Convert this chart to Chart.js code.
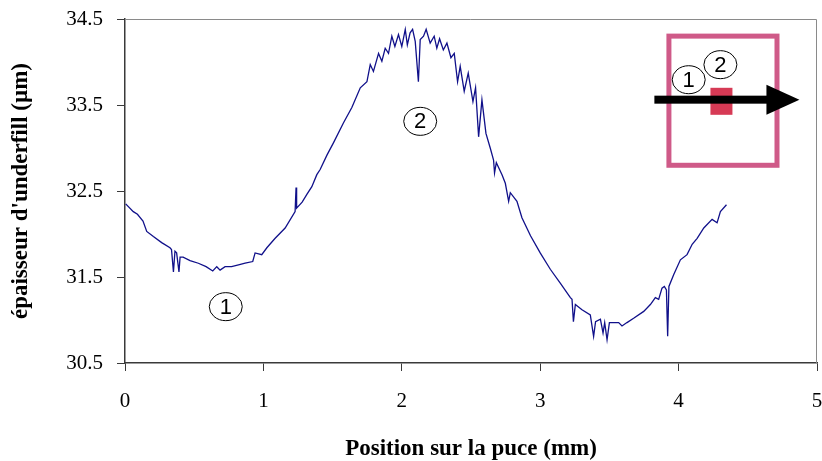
<!DOCTYPE html>
<html>
<head>
<meta charset="utf-8">
<script src="https://cdn.jsdelivr.net/npm/chart.js@4/dist/chart.umd.min.js"></script>
<style>
  html, body { margin: 0; padding: 0; background: #fff; }
  #wrap { width: 822px; height: 461px; position: relative; }
</style>
</head>
<body>
<div id="wrap"><canvas id="c"></canvas></div>
<script>
// Position along the chip (mm)
const positions = [
  0.005, 0.06, 0.09, 0.13, 0.157, 0.205, 0.265, 0.325, 0.336, 0.35, 0.361, 0.373, 0.39, 0.398,
  0.42, 0.47, 0.53, 0.586, 0.634, 0.663, 0.687, 0.723, 0.77, 0.82, 0.868, 0.923, 0.94,
  0.988, 1.025, 1.085, 1.157, 1.229, 1.236, 1.24, 1.28, 1.314, 1.35, 1.386, 1.41, 1.46, 1.506, 1.578,
  1.639, 1.70, 1.748, 1.772, 1.795, 1.832, 1.856, 1.88, 1.904, 1.928, 1.95, 1.976, 2.0,
  2.025, 2.04, 2.06, 2.078, 2.097, 2.12, 2.133, 2.157, 2.176, 2.205, 2.234, 2.253, 2.273,
  2.30, 2.326, 2.355, 2.379, 2.403, 2.422, 2.451, 2.48, 2.514, 2.533, 2.555, 2.579, 2.608,
  2.639, 2.663, 2.67, 2.683, 2.724, 2.748, 2.772, 2.784, 2.832, 2.868, 2.93, 3.0, 3.073,
  3.145, 3.218, 3.23, 3.24, 3.254, 3.302, 3.362, 3.386, 3.40, 3.435, 3.454, 3.466, 3.483,
  3.50, 3.53, 3.567, 3.591, 3.627, 3.675, 3.748, 3.796, 3.832, 3.856, 3.88, 3.897, 3.912,
  3.921, 3.93, 3.965, 4.013, 4.061, 4.098, 4.134, 4.182, 4.242, 4.278, 4.302, 4.346
];
// Underfill thickness (µm)
const thickness = [
  32.35, 32.26, 32.23, 32.15, 32.03, 31.97, 31.90, 31.84, 31.82, 31.56, 31.80, 31.78, 31.56, 31.73,
  31.73, 31.69, 31.66, 31.62, 31.57, 31.62, 31.58, 31.62, 31.62, 31.64, 31.66, 31.68, 31.78,
  31.76, 31.84, 31.95, 32.07, 32.26, 32.54, 32.30, 32.37, 32.46, 32.55, 32.69, 32.75, 32.92, 33.06, 33.29,
  33.47, 33.70, 33.77, 33.97, 33.89, 34.10, 34.01, 34.16, 34.10, 34.30, 34.18, 34.32, 34.18,
  34.38, 34.20, 34.34, 34.38, 34.24, 33.77, 34.26, 34.30, 34.38, 34.22, 34.30, 34.16, 34.27,
  34.14, 34.22, 34.05, 34.10, 33.77, 33.95, 33.66, 33.87, 33.54, 33.70, 33.13, 33.56, 33.17,
  33.00, 32.86, 32.71, 32.83, 32.69, 32.59, 32.38, 32.48, 32.38, 32.19, 31.98, 31.78, 31.59,
  31.43, 31.26, 31.24, 30.98, 31.18, 31.12, 31.06, 30.81, 30.98, 31.01, 30.85, 30.97, 30.77,
  30.97, 30.97, 30.97, 30.93, 30.97, 31.02, 31.10, 31.18, 31.26, 31.24, 31.37, 31.39, 31.35,
  30.81, 31.39, 31.53, 31.70, 31.76, 31.88, 31.95, 32.07, 32.17, 32.13, 32.26, 32.34
];
const xTickValues = [0, 1, 2, 3, 4, 5];
const xTickLabels = ['0', '1', '2', '3', '4', '5'];
const yTickValues = [30.5, 31.5, 32.5, 33.5, 34.5];
const yTickLabels = ['30.5', '31.5', '32.5', '33.5', '34.5'];
const xTitle = 'Position sur la puce (mm)';
const yTitle = "épaisseur d'underfill (µm)";

// circled markers, anchored in data coordinates
const markers = [
  { label: '1', x: 0.728, y: 31.155 },
  { label: '2', x: 2.133, y: 33.31 },
  { label: '1', x: 4.073, y: 33.794 },
  { label: '2', x: 4.302, y: 33.969 }
];
// inset sketch of the chip, in data coordinates
const insetChip = { x0: 3.912, x1: 4.729, y0: 34.33, y1: 32.77 };
const insetDie = { x0: 4.23, x1: 4.389, y0: 33.70, y1: 33.386 };
const insetArrow = { x0: 3.825, x1: 4.873, y: 33.562 };

const points = positions.map((p, i) => ({ x: p, y: thickness[i] }));

const framePlugin = {
  id: 'frame',
  beforeDatasetsDraw(chart) {
    const { ctx, chartArea: a } = chart;
    ctx.save();
    ctx.strokeStyle = '#8a8a8a';
    ctx.lineWidth = 1;
    ctx.beginPath();
    ctx.moveTo(a.left, a.top + 0.5);
    ctx.lineTo(a.right - 0.5, a.top + 0.5);
    ctx.lineTo(a.right - 0.5, a.bottom);
    ctx.stroke();
    ctx.restore();
  },
  afterDatasetsDraw(chart) {
    const { ctx } = chart;
    const xs = chart.scales.x, ys = chart.scales.y;
    ctx.save();
    // inset chip frame
    const fx0 = xs.getPixelForValue(insetChip.x0), fx1 = xs.getPixelForValue(insetChip.x1);
    const fy0 = ys.getPixelForValue(insetChip.y0), fy1 = ys.getPixelForValue(insetChip.y1);
    ctx.strokeStyle = '#cf5a88';
    ctx.lineWidth = 5;
    ctx.strokeRect(fx0 + 2.5, fy0 + 2.5, fx1 - fx0 - 5, fy1 - fy0 - 5);
    // die
    const dx0 = xs.getPixelForValue(insetDie.x0), dx1 = xs.getPixelForValue(insetDie.x1);
    const dy0 = ys.getPixelForValue(insetDie.y0), dy1 = ys.getPixelForValue(insetDie.y1);
    ctx.fillStyle = '#d63a55';
    ctx.fillRect(dx0, dy0, dx1 - dx0, dy1 - dy0);
    // arrow
    const ax0 = xs.getPixelForValue(insetArrow.x0), ax1 = xs.getPixelForValue(insetArrow.x1);
    const ay = ys.getPixelForValue(insetArrow.y);
    ctx.fillStyle = '#000';
    ctx.fillRect(ax0, ay - 4, ax1 - ax0 - 28, 8);
    ctx.beginPath();
    ctx.moveTo(ax1, ay);
    ctx.lineTo(ax1 - 33, ay - 15);
    ctx.lineTo(ax1 - 33, ay + 15);
    ctx.closePath();
    ctx.fill();
    // circled labels
    markers.forEach(m => {
      const cx = xs.getPixelForValue(m.x), cy = ys.getPixelForValue(m.y);
      ctx.fillStyle = '#fff';
      ctx.strokeStyle = '#000';
      ctx.lineWidth = 1;
      ctx.beginPath();
      ctx.ellipse(cx, cy, 16.5, 14, 0, 0, Math.PI * 2);
      ctx.fill();
      ctx.stroke();
      ctx.fillStyle = '#000';
      ctx.font = '22px "Liberation Sans", Arial, sans-serif';
      ctx.textAlign = 'center';
      ctx.textBaseline = 'middle';
      ctx.fillText(m.label, cx, cy + 1);
    });
    ctx.restore();
  }
};

new Chart(document.getElementById('c'), {
  type: 'scatter',
  data: {
    datasets: [{
      data: points,
      showLine: true,
      borderColor: '#10108a',
      borderWidth: 1.3,
      pointRadius: 0,
      tension: 0
    }]
  },
  options: {
    responsive: true,
    maintainAspectRatio: false,
    animation: false,
    events: [],
    layout: { padding: { left: 0, right: 5, top: 19, bottom: 0 } },
    plugins: { legend: { display: false }, tooltip: { enabled: false } },
    scales: {
      x: {
        type: 'linear',
        min: 0, max: 5,
        afterBuildTicks(s) { s.ticks = xTickValues.map(v => ({ value: v })); },
        afterFit(s) { s.height = 98; s.paddingLeft = 0; s.paddingRight = 0; },
        border: { display: true, color: '#3a3a3a', width: 1.5 },
        grid: { drawOnChartArea: false, drawTicks: true, tickLength: 8, color: '#3a3a3a', tickWidth: 1 },
        ticks: {
          padding: 18,
          color: '#000',
          maxRotation: 0,
          font: { family: '"Liberation Serif", "Times New Roman", serif', size: 21 },
          callback(v) { const i = xTickValues.indexOf(v); return i >= 0 ? xTickLabels[i] : ''; }
        },
        title: {
          display: true,
          text: xTitle,
          color: '#000',
          padding: { top: 0, bottom: 0 },
          font: { family: '"Liberation Serif", "Times New Roman", serif', size: 23, weight: 'bold', lineHeight: 1.0 }
        }
      },
      y: {
        type: 'linear',
        min: 30.5, max: 34.5,
        afterBuildTicks(s) { s.ticks = yTickValues.map(v => ({ value: v })); },
        afterFit(s) { s.width = 125; s.paddingTop = 0; s.paddingBottom = 0; },
        border: { display: true, color: '#3a3a3a', width: 1.5 },
        grid: { drawOnChartArea: false, drawTicks: true, tickLength: 8, color: '#3a3a3a', tickWidth: 1 },
        ticks: {
          padding: 14,
          color: '#000',
          font: { family: '"Liberation Serif", "Times New Roman", serif', size: 21 },
          callback(v) { const i = yTickValues.indexOf(v); return i >= 0 ? yTickLabels[i] : ''; }
        },
        title: {
          display: true,
          text: yTitle,
          color: '#000',
          padding: { top: 7, bottom: 0 },
          font: { family: '"Liberation Serif", "Times New Roman", serif', size: 23, weight: 'bold' }
        }
      }
    }
  },
  plugins: [framePlugin]
});
</script>
</body>
</html>
